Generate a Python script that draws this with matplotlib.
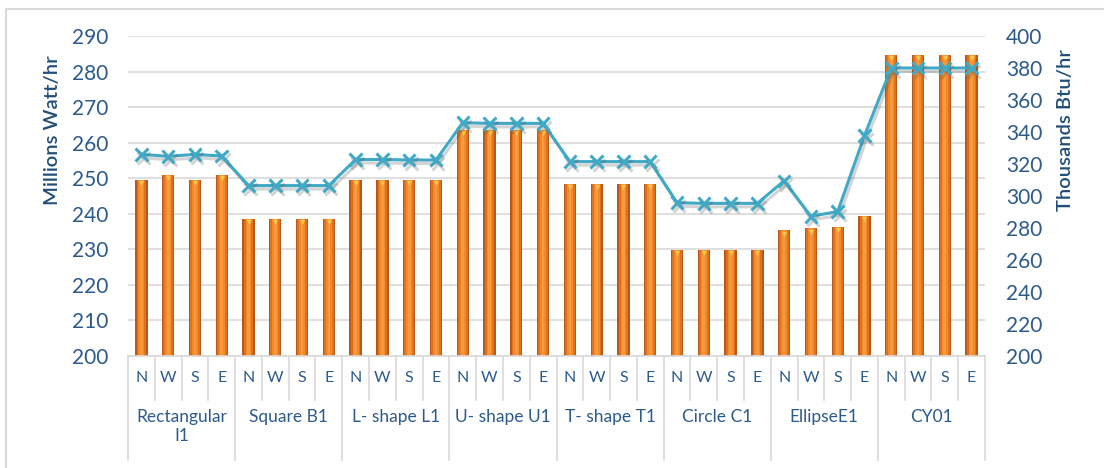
import matplotlib
matplotlib.use("Agg")
import matplotlib.pyplot as plt
import matplotlib.patheffects as pe
from matplotlib.transforms import blended_transform_factory
from matplotlib.lines import Line2D
import numpy as np

plt.rcParams['font.family'] = ['Lato', 'DejaVu Sans']

groups = ["Rectangular\nI1", "Square B1", "L- shape L1", "U- shape U1",
          "T- shape T1", "Circle C1", "EllipseE1", "CY01"]
orients = ["N", "W", "S", "E"]

watt = [249.6, 251.0, 249.6, 251.0,
        238.6, 238.6, 238.6, 238.6,
        249.6, 249.6, 249.6, 249.6,
        263.6, 263.6, 263.6, 263.6,
        248.3, 248.3, 248.3, 248.3,
        229.8, 229.8, 229.8, 229.8,
        235.3, 235.9, 236.4, 239.4,
        284.7, 284.7, 284.7, 284.7]

btu = [326.0, 324.8, 326.0, 325.0,
       306.5, 306.5, 306.5, 306.5,
       322.8, 322.8, 322.5, 322.5,
       345.8, 345.4, 345.4, 345.4,
       321.5, 321.5, 321.5, 321.5,
       295.8, 295.4, 295.4, 295.4,
       309.5, 287.3, 290.3, 337.8,
       380.0, 380.0, 380.0, 380.0]

left_ticks = list(range(200, 291, 10))
right_ticks = list(range(200, 401, 20))

W, H = 1104, 468
fig = plt.figure(figsize=(W / 100, H / 100), dpi=100)
ax = fig.add_axes([128 / W, (H - 356) / H, (985 - 128) / W, 320 / H])

tick_col = "#2B5A8C"
lab_col = "#1F4E79"
grid_col = "#D9D9D9"

n = len(watt)
x = np.arange(n)

# bars with layered "cylinder" shading
ax.bar(x, np.array(watt) - 200, bottom=200, width=0.46, color="#B9581A", zorder=2)
ax.bar(x, np.array(watt) - 200, bottom=200, width=0.36, color="#DD731F", zorder=2)
ax.bar(x, np.array(watt) - 200, bottom=200, width=0.22, color="#F28A2C", zorder=2)
ax.bar(x, np.array(watt) - 200, bottom=200, width=0.10, color="#F9993A", zorder=2)
ax.scatter(x, np.array(watt) - 0.9, marker="v", s=14, color="#F7C64A", zorder=3, linewidths=0)

ax.set_xlim(-0.5, n - 0.5)
ax.set_ylim(200, 290)
ax.set_yticks(left_ticks)
ax.yaxis.grid(True, color=grid_col, linewidth=1.2, zorder=0)
ax.set_axisbelow(True)
for s in ["left", "right", "top"]:
    ax.spines[s].set_visible(False)
ax.spines["bottom"].set_color(grid_col)
ax.spines["bottom"].set_linewidth(1.2)
ax.tick_params(axis="y", length=0, pad=14, labelsize=15, labelcolor=tick_col)
ax.tick_params(axis="x", length=0, labelbottom=False)

ax2 = ax.twinx()
ax2.set_ylim(200, 400)
ax2.set_yticks(right_ticks)
for s in ax2.spines.values():
    s.set_visible(False)
ax2.tick_params(axis="y", length=0, pad=15, labelsize=15, labelcolor=tick_col)
ax2.plot(x, btu, color="#3FA9C6", linewidth=2.2, marker="x", markersize=9,
         markeredgewidth=2.2, zorder=5,
         path_effects=[pe.SimpleLineShadow(offset=(1.5, -2.5), shadow_color="#555555", alpha=0.25),
                       pe.Normal()])

# category box below axis
trans = blended_transform_factory(ax.transData, ax.transAxes)
inner_bot = -(400 - 356) / 320
outer_bot = -(460 - 356) / 320
for b in range(n + 1):
    xb = b - 0.5
    yb = outer_bot if b % 4 == 0 else inner_bot
    ax.add_line(Line2D([xb, xb], [0, yb], transform=trans, color=grid_col,
                       linewidth=1.2, clip_on=False))
for i in range(n):
    ax.text(i, -(378 - 356) / 320, orients[i % 4], transform=trans, ha="center",
            va="center", fontsize=11.5, color=tick_col)
for g, name in enumerate(groups):
    ax.text(4 * g + 1.5, -(409 - 356) / 320, name, transform=trans, ha="center",
            va="top", fontsize=12.5, color=tick_col, linespacing=1.2)

fig.text(53 / W, 1 - 130 / H, "Millions Watt/hr", rotation=90, ha="center",
         va="center", fontsize=14.5, color=lab_col, fontweight="semibold")
fig.text(1065 / W, 1 - 130 / H, "Thousands Btu/hr", rotation=90, ha="center",
         va="center", fontsize=14.5, color=lab_col, fontweight="semibold")

# outer chart border (top and left visible)
fig.add_artist(Line2D([6 / W, 1], [1 - 8.5 / H, 1 - 8.5 / H], transform=fig.transFigure,
                      color=grid_col, linewidth=1.5))
fig.add_artist(Line2D([6 / W, 6 / W], [0, 1 - 8.5 / H], transform=fig.transFigure,
                      color=grid_col, linewidth=1.5))

fig.savefig("out.png", dpi=100)
